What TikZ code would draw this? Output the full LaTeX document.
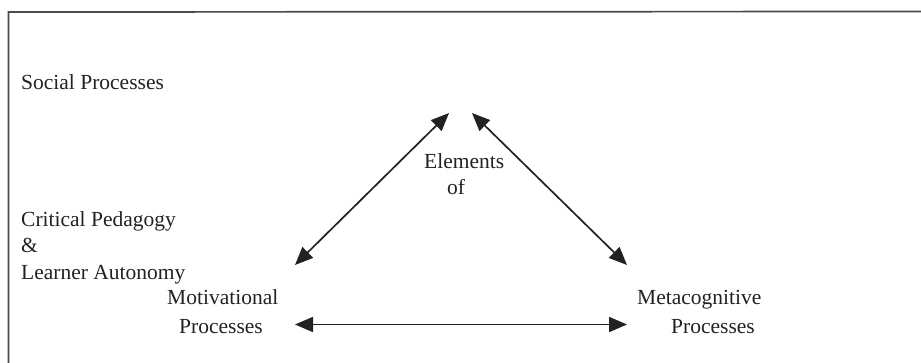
\documentclass[tikz,border=0pt]{standalone}
\usepackage{fontspec}
\setmainfont{Liberation Serif}
\usetikzlibrary{arrows.meta}
\definecolor{ink}{HTML}{222222}
\definecolor{frame}{HTML}{4A4A4A}
\tikzset{
  lbl/.style={anchor=base west, inner sep=0pt, text=ink, font=\fontsize{21.5}{26}\selectfont},
  link/.style={draw=ink, line width=1.7pt, {Triangle[length=18pt,width=15pt]}-{Triangle[length=18pt,width=15pt]}},
  boxline/.style={draw=frame, line width=1.7pt}
}
\begin{document}
\begin{tikzpicture}[x=1pt,y=-1pt]
\useasboundingbox (0,0) rectangle (921,362);
\draw[boxline] (8.5,363) -- (8.5,12) -- (922,11.5);
\node[lbl] (social) at (21,89) {Social Processes};
\node[lbl] (elem) at (424,168) {Elements};
\node[lbl] (of) at (447,194) {of};
\node[lbl] (crit) at (21,226) {Critical Pedagogy};
\node[lbl] (amp) at (21,252) {\&};
\node[lbl] (learn) at (21,279) {Learner Autonomy};
\node[lbl] (motiv) at (167,304) {Motivational};
\node[lbl] (procl) at (179,333) {Processes};
\node[lbl] (meta) at (637,304) {Metacognitive};
\node[lbl] (procr) at (671,333) {Processes};
\coordinate (topL) at (449,113);
\coordinate (topR) at (472,113);
\coordinate (motTip) at (295,265);
\coordinate (metTip) at (627,265);
\coordinate (botL) at (295,324.5);
\coordinate (botR) at (627,324.5);
\draw[link] (motTip) -- (topL);
\draw[link] (topR) -- (metTip);
\draw[link] (botL) -- (botR);
\end{tikzpicture}
\end{document}
